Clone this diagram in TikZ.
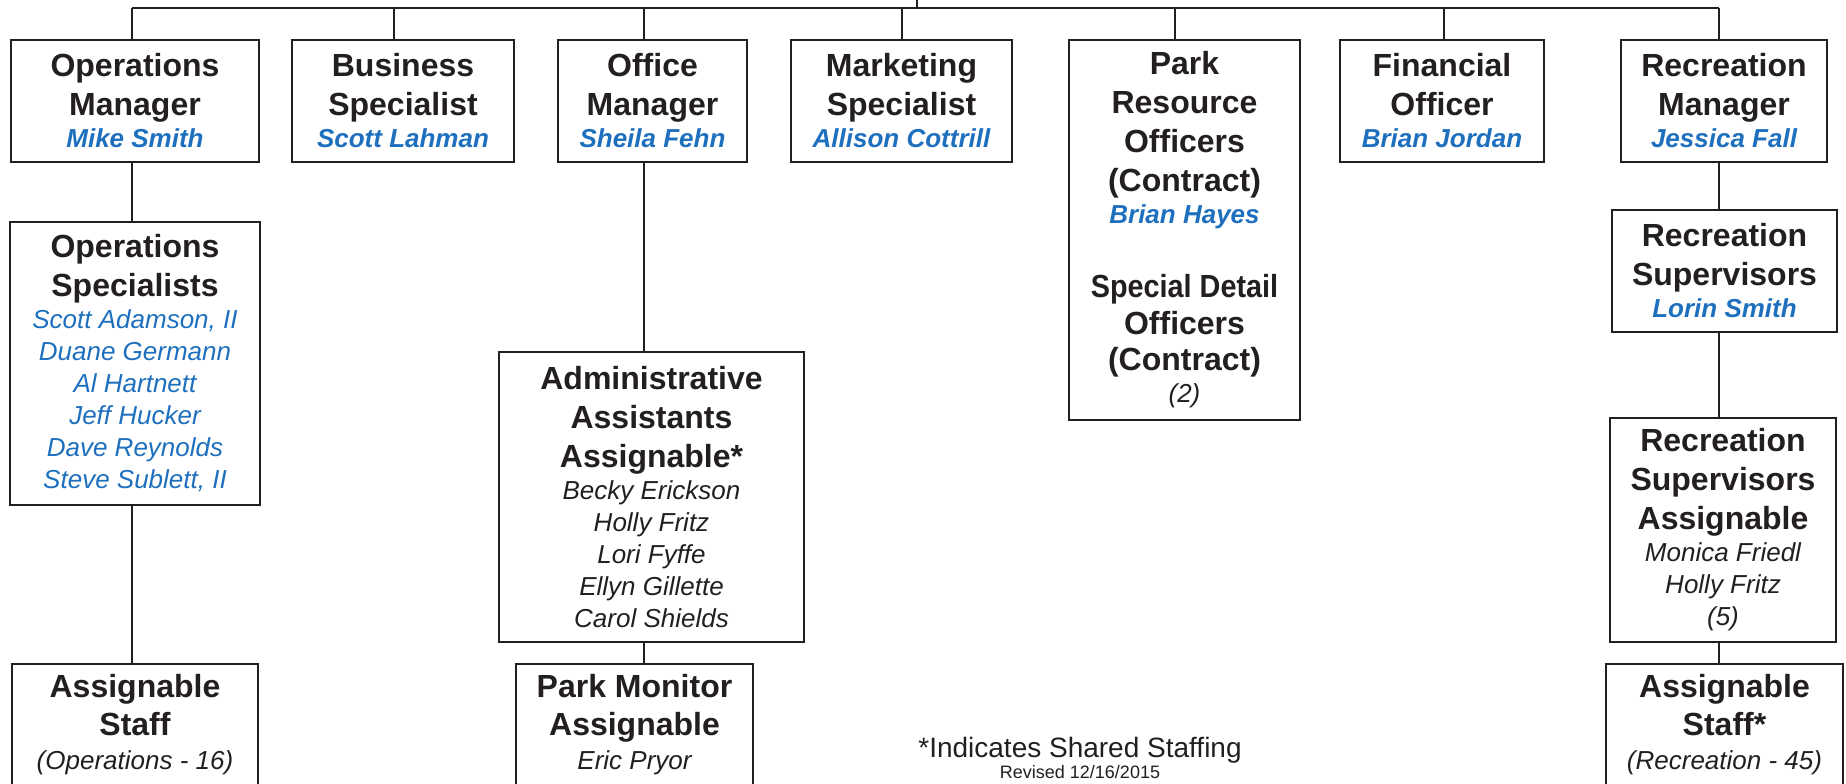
\documentclass[tikz,border=0pt]{standalone}
\usepackage{fontspec}
\setmainfont{Liberation Sans}
\usepackage{graphicx}

\definecolor{ink}{RGB}{35,31,32}
\definecolor{nameblue}{RGB}{30,112,190}

% name lines under the titles
\newcommand{\boss}[1]{{\fontsize{13}{16}\selectfont\bfseries\itshape\color{nameblue}#1}}
\newcommand{\crew}[1]{{\fontsize{13}{16}\selectfont\mdseries\itshape\color{nameblue}#1}}
\newcommand{\who}[1]{{\fontsize{13}{16}\selectfont\mdseries\itshape #1}}

\tikzset{
  post/.style={draw=ink, line width=0.8pt, text=ink, align=center, inner sep=0pt,
    font=\fontsize{16}{16}\selectfont\bfseries},
  topbox/.style={post, minimum height=61pt},
  cutbox/.style={post, anchor=north, inner ysep=5.25pt, text depth=40pt},
  link/.style={draw=ink, line width=0.8pt},
}

\begin{document}
\begin{tikzpicture}[x=0.5pt, y=-0.5pt]
\useasboundingbox (0,0) rectangle (1846,783);

% columns of the connectors
\coordinate (edge) at (917,0);
\coordinate (top) at (917,8);
\coordinate (opscol) at (132,0);
\coordinate (buscol) at (394,0);
\coordinate (offcol) at (644,0);
\coordinate (mktcol) at (902,0);
\coordinate (parkcol) at (1175,0);
\coordinate (fincol) at (1444,0);
\coordinate (reccol) at (1719,0);

% first row
\node (opsmgr)[topbox, minimum width=124pt] at (135,101) {Operations\\[3.5pt]Manager\\\boss{Mike Smith}};
\node (busspec)[topbox, minimum width=111pt] at (403,101) {Business\\[3.5pt]Specialist\\\boss{Scott Lahman}};
\node (offmgr)[topbox, minimum width=94.5pt] at (652.5,101) {Office\\[3.5pt]Manager\\\boss{Sheila Fehn}};
\node (mktspec)[topbox, minimum width=110.5pt] at (901.5,101) {Marketing\\[3.5pt]Specialist\\\boss{Allison Cottrill}};
\node (parkres)[post, minimum width=115.5pt, minimum height=190pt] at (1184.5,230) {Park\\[3.5pt]Resource\\[3.5pt]Officers\\[3.5pt](Contract)\\\boss{Brian Hayes}\\[21pt]\scalebox{0.9}[1]{Special Detail}\\[2.5pt]Officers\\[2pt](Contract)\\\who{(2)}};
\node (finoff)[topbox, minimum width=102pt] at (1442,101) {Financial\\[3.5pt]Officer\\\boss{Brian Jordan}};
\node (recmgr)[topbox, minimum width=103pt] at (1724,101) {Recreation\\[3.5pt]Manager\\\boss{Jessica Fall}};

% second row
\node (opsspec)[post, minimum width=125pt, minimum height=141.5pt] at (135,363.5) {Operations\\[3.5pt]Specialists\\\crew{Scott Adamson, II}\\\crew{Duane Germann}\\\crew{Al Hartnett}\\\crew{Jeff Hucker}\\\crew{Dave Reynolds}\\\crew{Steve Sublett, II}};
\node (admin)[post, minimum width=152.5pt, minimum height=145pt] at (651.5,497) {Administrative\\[3.5pt]Assistants\\[3.5pt]Assignable*\\\who{Becky Erickson}\\\who{Holly Fritz}\\\who{Lori Fyffe}\\\who{Ellyn Gillette}\\\who{Carol Shields}};
\node (recsup)[topbox, minimum width=112.5pt] at (1724.5,271) {Recreation\\[3.5pt]Supervisors\\\boss{Lorin Smith}};
\node (recsupas)[post, minimum width=113pt, minimum height=112pt] at (1723,530) {Recreation\\[3.5pt]Supervisors\\[3.5pt]Assignable\\\who{Monica Friedl}\\\who{Holly Fritz}\\\who{(5)}};

% last row, cut by the page
\node (opsassign)[cutbox, minimum width=123pt] at (135,663) {Assignable\\[3pt]Staff\\[1pt]\who{(Operations - 16)}};
\node (pkmon)[cutbox, minimum width=118.5pt] at (634.5,663) {Park Monitor\\[3pt]Assignable\\[1pt]\who{Eric Pryor}};
\node (recassign)[cutbox, minimum width=118.5pt] at (1724.5,663) {Assignable\\[3pt]Staff*\\[1pt]\who{(Recreation - 45)}};

\node (note)[text=ink, font=\fontsize{14}{16}\selectfont] at (1080,750) {*Indicates Shared Staffing};
\node (rev)[text=ink, font=\fontsize{9}{11}\selectfont] at (1080,772) {Revised 12/16/2015};

% top bar
\draw[link] (edge) -- (top);
\draw[link] (top -| opscol) -- (top -| reccol);
\draw[link] (top -| opscol) -- (opsmgr.north -| opscol);
\draw[link] (top -| buscol) -- (busspec.north -| buscol);
\draw[link] (top -| offcol) -- (offmgr.north -| offcol);
\draw[link] (top -| mktcol) -- (mktspec.north -| mktcol);
\draw[link] (top -| parkcol) -- (parkres.north -| parkcol);
\draw[link] (top -| fincol) -- (finoff.north -| fincol);
\draw[link] (top -| reccol) -- (recmgr.north -| reccol);

% down the columns
\draw[link] (opsmgr.south -| opscol) -- (opsspec.north -| opscol);
\draw[link] (opsspec.south -| opscol) -- (opsassign.north -| opscol);
\draw[link] (offmgr.south -| offcol) -- (admin.north -| offcol);
\draw[link] (admin.south -| offcol) -- (pkmon.north -| offcol);
\draw[link] (recmgr.south -| reccol) -- (recsup.north -| reccol);
\draw[link] (recsup.south -| reccol) -- (recsupas.north -| reccol);
\draw[link] (recsupas.south -| reccol) -- (recassign.north -| reccol);
\end{tikzpicture}
\end{document}
